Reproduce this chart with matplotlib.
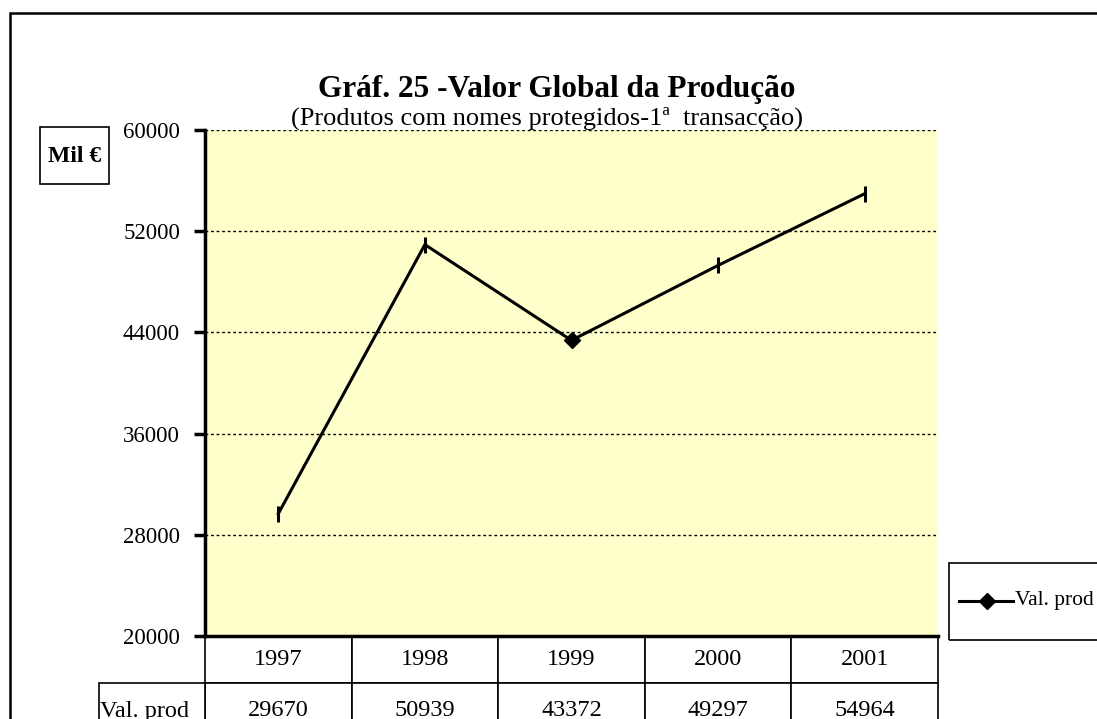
import matplotlib
matplotlib.use("Agg")
import matplotlib.pyplot as plt
from matplotlib.table import Table
from matplotlib.patches import Rectangle
from matplotlib.lines import Line2D

years = ["1997", "1998", "1999", "2000", "2001"]
val_prod = [29670, 50939, 43372, 49297, 54964]
yticks = [20000, 28000, 36000, 44000, 52000, 60000]
row_label = "Val. prod"

plt.rcParams["font.family"] = ["Liberation Serif", "DejaVu Serif"]

W, H = 1097, 719
fig = plt.figure(figsize=(W / 100, H / 100), dpi=100)

# moldura exterior do grafico
fig.patches.append(Rectangle((10 / W, -0.1), 1.2, (H - 13) / H + 0.1, transform=fig.transFigure,
                             fill=False, edgecolor="black", linewidth=1.8))

ax = fig.add_axes([205 / W, (H - 636) / H, (938 - 205) / W, (636 - 130) / H])
ax.set_facecolor("#FFFFCC")

x = list(range(len(years)))
ax.plot(x, val_prod, color="black", linewidth=2.2, zorder=3)
# marcadores como aparecem no original
ax.plot([x[i] for i in (0, 1, 3, 4)], [val_prod[i] for i in (0, 1, 3, 4)], linestyle="none",
        marker="|", markersize=11, markeredgewidth=2.2, color="black", zorder=4)
ax.plot([x[2]], [val_prod[2]], linestyle="none", marker="D", markersize=8, color="black", zorder=4)

ax.set_xlim(-0.5, len(years) - 0.5)
ax.set_ylim(20000, 60000)
ax.set_yticks(yticks)
ax.set_yticklabels([str(v) for v in yticks], fontsize=16.5)
ax.set_xticks([])
ax.yaxis.grid(True, color="black", linestyle=(0, (2, 2)), linewidth=1)
ax.set_axisbelow(True)
for s in ("top", "right"):
    ax.spines[s].set_visible(False)
ax.spines["left"].set_linewidth(2.5)
ax.spines["bottom"].set_linewidth(2.5)
ax.tick_params(axis="y", direction="out", length=8, width=2.5, pad=10)

# tabela de dados
h1, h2 = 47 / 506, 56 / 506
tb = Table(ax, bbox=[0, -(h1 + h2), 1, h1 + h2])
for j, yr in enumerate(years):
    tb.add_cell(0, j, width=1, height=h1, text=yr, loc="center").set_linewidth(1.2)
for j, v in enumerate(val_prod):
    tb.add_cell(1, j, width=1, height=h2, text=str(v), loc="center").set_linewidth(1.2)
tb.auto_set_font_size(False)
tb.set_fontsize(17.5)
tb.set_clip_on(False)
ax.add_table(tb)

lab = Table(ax, bbox=[-106 / 733, -(h1 + h2), 106 / 733, h2])
c = lab.add_cell(0, 0, width=1, height=1, text=row_label, loc="left")
c.PAD = 0.01
c.set_linewidth(1.2)
lab.auto_set_font_size(False)
lab.set_fontsize(17.5)
lab.set_clip_on(False)
ax.add_table(lab)

# legenda
fig.patches.append(Rectangle((949 / W, (H - 640) / H), 0.2, 77 / H, transform=fig.transFigure,
                             fill=False, edgecolor="black", linewidth=1.2))
ly = (H - 601) / H
fig.lines.append(Line2D([959 / W, 1013 / W], [ly, ly], transform=fig.transFigure,
                        color="black", linewidth=2.2))
fig.lines.append(Line2D([987 / W], [ly], transform=fig.transFigure, marker="D",
                        markersize=8, color="black"))
fig.text(1015 / W, ly, row_label, fontsize=15.5, va="center", ha="left")

# caixa da unidade
fig.patches.append(Rectangle((40 / W, (H - 184) / H), 69 / W, 57 / H, transform=fig.transFigure,
                             fill=False, edgecolor="black", linewidth=1.2))
fig.text(75 / W, (H - 157) / H, "Mil €", fontsize=17, fontweight="bold", ha="center", va="center")

fig.text(557 / W, (H - 89) / H, "Gráf. 25 -Valor Global da Produção", fontsize=22.5,
         fontweight="bold", ha="center", va="center")
fig.text(547 / W, (H - 118) / H, "(Produtos com nomes protegidos-1ª  transacção)", fontsize=19,
         ha="center", va="center")

fig.savefig("out.png", dpi=100)
